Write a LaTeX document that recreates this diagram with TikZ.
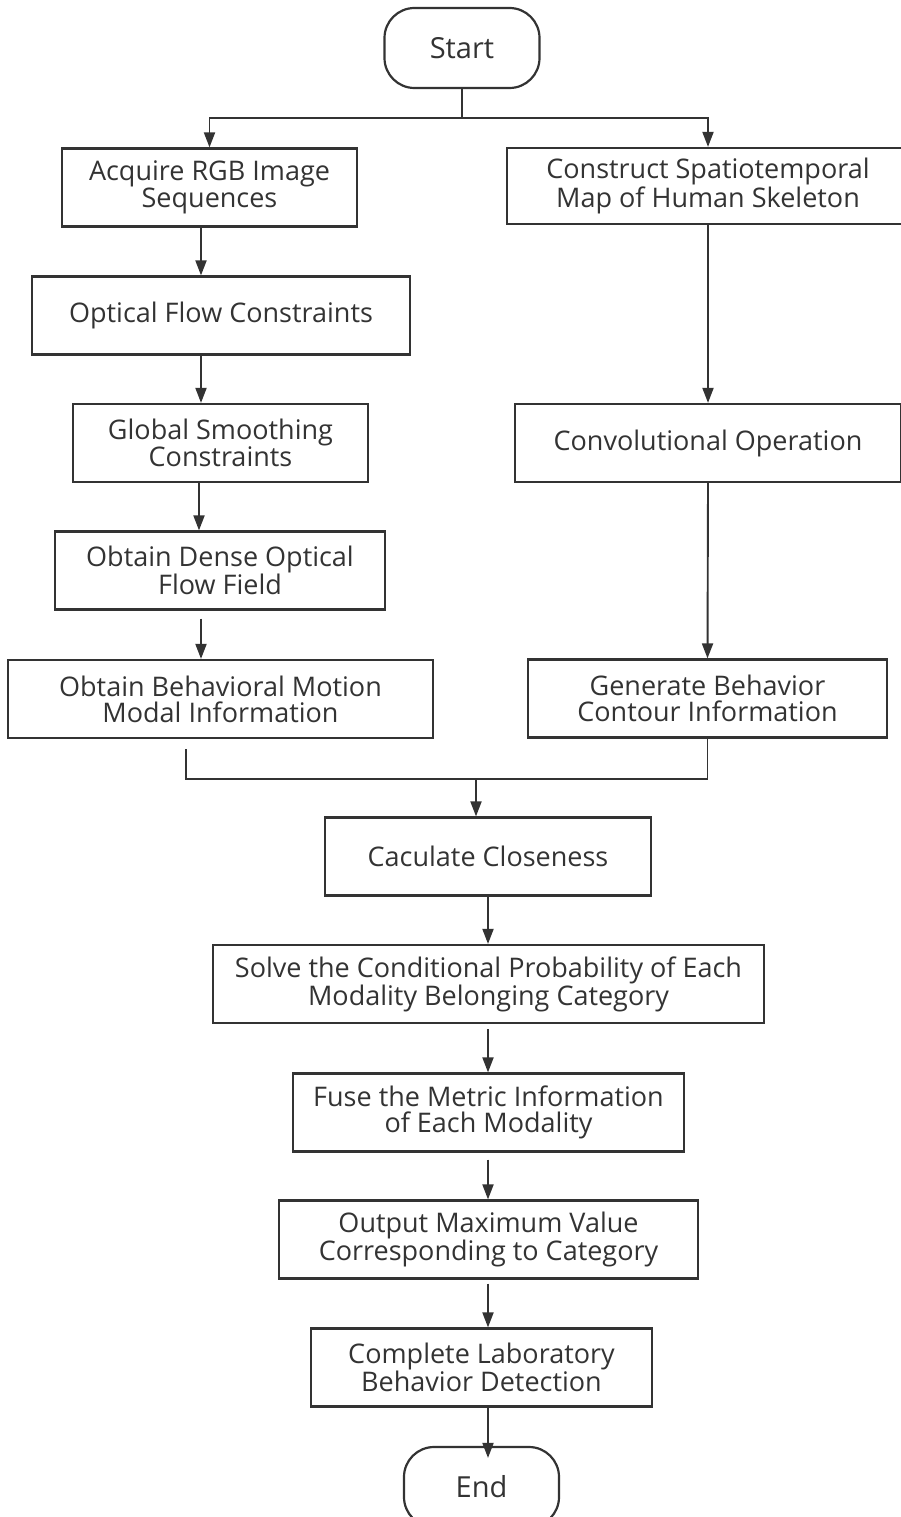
\documentclass[tikz,border=0pt]{standalone}
\usepackage{fontspec}
\usetikzlibrary{positioning, arrows.meta}
\newfontfamily\flowfont{Open Sans}
\definecolor{flowgray}{RGB}{51, 51, 51}

\begin{document}
\begin{tikzpicture}[x=1pt, y=-1pt,
        box/.style={draw=flowgray, line width=2.2pt, text=flowgray,
                    align=center, inner sep=0pt, minimum height=78pt,
                    font=\flowfont\fontsize{27}{26}\selectfont},
        term/.style={box, rounded corners=30pt, minimum width=155pt,
                     minimum height=80pt,
                     font=\flowfont\fontsize{29}{29}\selectfont},
        link/.style={draw=flowgray, line width=1.9pt},
        arr/.style={link, -{Triangle[length=15pt, width=11pt]}}
    ]
    \useasboundingbox (0, 0) rectangle (901, 1517);

    \node[term] (start) at (462, 48) {Start};

    % left branch
    \node[box, minimum width=295pt] (acq) at (209.5, 187.5)
        {Acquire RGB Image\\Sequences};
    \node[box, minimum width=378pt] (opt) at (221, 315.5)
        {Optical Flow Constraints};
    \node[box, minimum width=295pt] (glob) at (220.5, 443)
        {Global Smoothing\\Constraints};
    \node[box, minimum width=330pt] (dense) at (220, 570.5)
        {Obtain Dense Optical\\Flow Field};
    \node[box, minimum width=425pt] (behav) at (220.5, 699)
        {Obtain Behavioral Motion\\Modal Information};

    % right branch
    \node[box, minimum width=402pt, minimum height=76pt] (stmap) at (708, 186)
        {Construct Spatiotemporal\\Map of Human Skeleton};
    \node[box, minimum width=386pt] (conv) at (708, 443)
        {Convolutional Operation};
    \node[box, minimum width=359pt] (contour) at (707.5, 698.5)
        {Generate Behavior\\Contour Information};

    % fused part
    \node[box, minimum width=326pt] (close) at (488, 856.5)
        {Caculate Closeness};
    \node[box, minimum width=551pt] (solve) at (488.5, 984)
        {Solve the Conditional Probability of Each\\Modality Belonging Category};
    \node[box, minimum width=391pt] (fuse) at (488.5, 1112.5)
        {Fuse the Metric Information\\of Each Modality};
    \node[box, minimum width=419pt] (outp) at (488.5, 1239.5)
        {Output Maximum Value\\Corresponding to Category};
    \node[box, minimum width=341pt] (done) at (481.5, 1367.5)
        {Complete Laboratory\\Behavior Detection};
    \node[term] (end) at (481.5, 1487) {End};

    \coordinate (split) at (462, 118);
    \coordinate (lcol) at (201, 0);
    \coordinate (bcol) at (186, 0);
    \coordinate (merge) at (476, 779);

    \draw[link] (start.south) -- (split);
    \draw[arr] (split) -| (acq.north);
    \draw[arr] (split) -| (stmap.north);

    \draw[arr] (acq.south -| lcol) -- (opt.north -| lcol);
    \draw[arr] (opt.south -| lcol) -- (glob.north -| lcol);
    \draw[arr] ([xshift=-2pt]glob.south -| lcol) -- ([xshift=-2pt]dense.north -| lcol);
    \draw[arr, shorten <=8pt] (dense.south -| lcol) -- (behav.north -| lcol);

    \draw[arr] (stmap.south) -- (conv.north);
    \draw[arr] (conv.south) -- (contour.north);

    \draw[link, shorten <=10pt] (behav.south -| bcol) |- (merge) -| (contour.south);
    \draw[arr] (merge) -- (close.north -| merge);

    \draw[arr] (close.south) -- (solve.north -| close.south);
    \draw[arr, shorten <=5pt] (solve.south -| close.south) -- (fuse.north -| close.south);
    \draw[arr, shorten <=7pt] (fuse.south -| close.south) -- (outp.north -| close.south);
    \draw[arr, shorten <=4pt] (outp.south -| close.south) -- (done.north -| close.south);
    \draw[arr, shorten >=-12pt] (done.south -| close.south) -- (end.north -| close.south);

\end{tikzpicture}
\end{document}
